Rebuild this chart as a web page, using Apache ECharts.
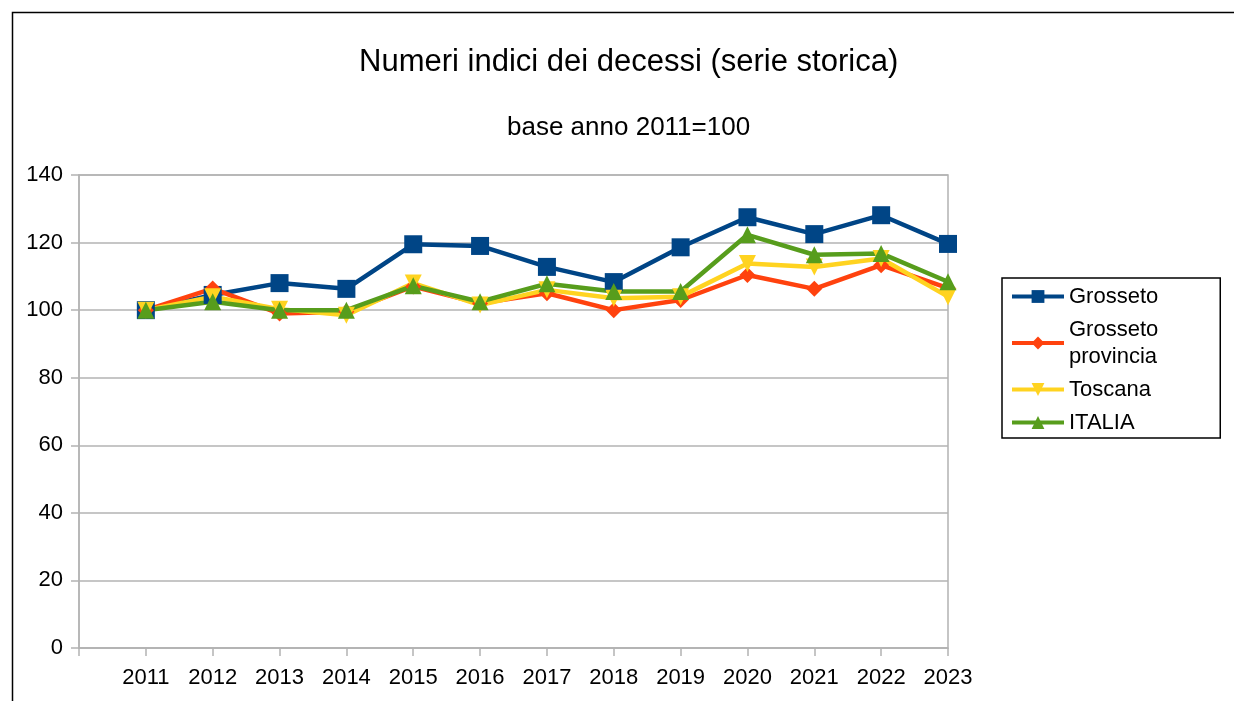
<!DOCTYPE html>
<html>
<head>
<meta charset="utf-8">
<title>Numeri indici dei decessi</title>
<script src="https://cdn.jsdelivr.net/npm/echarts@6/dist/echarts.min.js"></script>
<style>
  html, body { margin: 0; padding: 0; background: #fff; }
  #chart { width: 1234px; height: 701px; }
</style>
</head>
<body>
<div id="chart"></div>
<script>
// dati (base 2011 = 100); prima categoria vuota come nell'originale
var anni = ['', '2011', '2012', '2013', '2014', '2015', '2016', '2017', '2018', '2019', '2020', '2021', '2022', '2023'];
var grosseto = ['-', 100, 104.5, 108, 106.3, 119.5, 119, 112.8, 108.3, 118.6, 127.5, 122.5, 128.1, 119.6];
var grossetoProv = ['-', 100, 106.4, 99, 99.5, 107, 102, 105, 100, 103, 110.4, 106.3, 113.3, 106.5];
var toscana = ['-', 100, 104, 100.3, 98.5, 108, 101.5, 106, 103.5, 104, 113.8, 112.8, 115.3, 104];
var italia = ['-', 100, 102.5, 100, 100, 107.2, 102.5, 107.8, 105.5, 105.5, 122.3, 116.4, 116.8, 108.4];
var yTicks = [0, 20, 40, 60, 80, 100, 120, 140];

var FONT = '"Liberation Sans", Arial, sans-serif';
var chart = echarts.init(document.getElementById('chart'));

function serie(nome, dati, colore, simbolo, size) {
  return {
    name: nome, type: 'line', data: dati,
    lineStyle: { color: colore, width: 4.5 },
    itemStyle: { color: colore },
    symbol: simbolo, symbolSize: size,
    showAllSymbol: true, animation: false
  };
}

chart.setOption({
  backgroundColor: '#fff',
  textStyle: { fontFamily: FONT },
  title: [
    { text: 'Numeri indici dei decessi (serie storica)', left: 354, top: 42,
      textStyle: { fontFamily: FONT, fontWeight: 'normal', fontSize: 31, color: '#000' } },
    { text: 'base anno 2011=100', left: 502, top: 110,
      textStyle: { fontFamily: FONT, fontWeight: 'normal', fontSize: 26, color: '#000' } }
  ],
  graphic: [{
    type: 'rect', left: 10, top: 10, silent: true,
    shape: { width: 1240, height: 705 },
    style: { fill: 'none', stroke: '#000', lineWidth: 1.5 }
  }],
  legend: {
    orient: 'vertical', left: 1002, top: 278,
    padding: [5, 62, 2, 8], itemGap: 6,
    itemWidth: 52, itemHeight: 16,
    borderColor: '#000', borderWidth: 1.5, borderRadius: 0,
    lineStyle: { width: 4 },
    textStyle: { fontFamily: FONT, fontSize: 22, color: '#000', lineHeight: 27 },
    data: ['Grosseto', 'Grosseto\nprovincia', 'Toscana', 'ITALIA']
  },
  grid: {
    left: 79, right: 286, top: 175, bottom: 53,
    show: true, borderColor: '#b3b3b3', borderWidth: 1.5
  },
  xAxis: {
    type: 'category', data: anni, boundaryGap: false,
    axisLine: { lineStyle: { color: '#b3b3b3', width: 1.5 } },
    axisTick: { show: true, length: 8, lineStyle: { color: '#b3b3b3', width: 1.5 } },
    axisLabel: { color: '#000', fontSize: 22, fontFamily: FONT, margin: 19 },
    splitLine: { show: false }
  },
  yAxis: {
    type: 'value', min: yTicks[0], max: yTicks[yTicks.length - 1], interval: 20,
    axisLine: { show: true, lineStyle: { color: '#b3b3b3', width: 1.5 } },
    axisTick: { show: true, length: 8, lineStyle: { color: '#b3b3b3', width: 1.5 } },
    axisLabel: { color: '#000', fontSize: 22, fontFamily: FONT, margin: 16 },
    splitLine: { lineStyle: { color: '#b3b3b3', width: 1.5 } }
  },
  series: [
    serie('Grosseto', grosseto, '#004586', 'rect', 18),
    serie('Grosseto\nprovincia', grossetoProv, '#ff420e', 'diamond', 16),
    serie('Toscana', toscana, '#ffd320', 'path://M0,0 L10,0 L5,9 Z', 17),
    serie('ITALIA', italia, '#579d1c', 'triangle', 17)
  ]
});
</script>
</body>
</html>
